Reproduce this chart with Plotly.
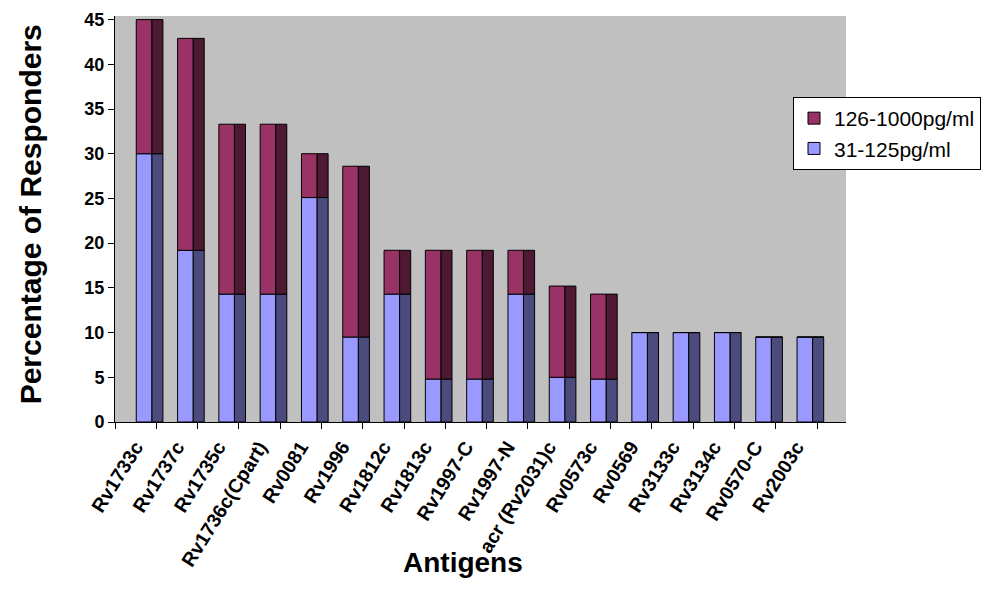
import plotly.graph_objects as go

categories = ["Rv1733c", "Rv1737c", "Rv1735c", "Rv1736c(Cpart)", "Rv0081", "Rv1996",
              "Rv1812c", "Rv1813c", "Rv1997-C", "Rv1997-N", "acr (Rv2031)c", "Rv0573c",
              "Rv0569", "Rv3133c", "Rv3134c", "Rv0570-C", "Rv2003c"]
low_31_125 = [30.0, 19.2, 14.3, 14.3, 25.1, 9.5, 14.3, 4.8, 4.8, 14.3, 5.0, 4.8,
              10.0, 10.0, 10.0, 9.5, 9.5]
high_126_1000 = [15.0, 23.7, 19.0, 19.0, 4.9, 19.1, 4.9, 14.4, 14.4, 4.9, 10.2, 9.5,
                 0, 0, 0, 0, 0]
y_ticks = [0, 5, 10, 15, 20, 25, 30, 35, 40, 45]

BLUE, BLUE_SIDE = "#9999FF", "#4B4B7E"
MAROON, MAROON_SIDE = "#993366", "#4E1A33"
FRONT_OFF, FRONT_W = 0.015, 0.375
SIDE_OFF, SIDE_W = 0.39, 0.27
line = dict(color="black", width=1)

fig = go.Figure()
# side faces (depth)
fig.add_trace(go.Bar(x=categories, y=low_31_125, base=0, offset=SIDE_OFF, width=SIDE_W,
                     marker=dict(color=BLUE_SIDE, line=line), showlegend=False, hoverinfo="skip"))
fig.add_trace(go.Bar(x=categories, y=high_126_1000, base=low_31_125, offset=SIDE_OFF, width=SIDE_W,
                     marker=dict(color=MAROON_SIDE, line=line), showlegend=False, hoverinfo="skip"))
# front faces
fig.add_trace(go.Bar(x=categories, y=low_31_125, base=0, offset=FRONT_OFF, width=FRONT_W,
                     marker=dict(color=BLUE, line=line), name="31-125pg/ml", legendrank=2))
fig.add_trace(go.Bar(x=categories, y=high_126_1000, base=low_31_125, offset=FRONT_OFF, width=FRONT_W,
                     marker=dict(color=MAROON, line=line), name="126-1000pg/ml", legendrank=1))

fig.update_layout(
    width=981, height=607,
    margin=dict(l=115, r=135, t=16, b=185, autoexpand=False),
    barmode="overlay",
    paper_bgcolor="white",
    plot_bgcolor="#C0C0C0",
    font=dict(family="Liberation Sans, Arial, sans-serif", color="black"),
    showlegend=True,
    legend=dict(x=0.9275, y=0.8005, xanchor="left", yanchor="top",
                bgcolor="white", bordercolor="black", borderwidth=1,
                font=dict(size=21, color="black"), traceorder="normal"),
    annotations=[
        dict(text="<b>Percentage of Responders</b>", xref="paper", yref="paper",
             x=-0.116, y=0.512, xanchor="center", yanchor="middle", textangle=-90,
             showarrow=False, font=dict(size=30, color="black")),
        dict(text="<b>Antigens</b>", xref="paper", yref="paper",
             x=0.476, y=-0.345, xanchor="center", yanchor="middle",
             showarrow=False, font=dict(size=28, color="black")),
    ],
)
fig.update_xaxes(
    type="category", range=[-0.5, 17.2],
    showline=True, linecolor="black", linewidth=1,
    ticks="outside", tickson="boundaries", ticklen=6, tickcolor="black",
    tickangle=-58, tickfont=dict(size=19.5, family="Liberation Sans, Arial, sans-serif"),
    ticklabelstandoff=5,
    showgrid=False, zeroline=False, automargin=False,
    tickprefix="<b>", ticksuffix="</b>",
)
fig.update_yaxes(
    range=[0, 45.4], tickvals=y_ticks, ticktext=[f"<b>{v}</b>" for v in y_ticks],
    showline=True, linecolor="black", linewidth=1,
    ticks="outside", ticklen=6, tickcolor="black",
    tickfont=dict(size=18), showgrid=False, zeroline=False, automargin=False,
)

fig.write_html("out.html")
